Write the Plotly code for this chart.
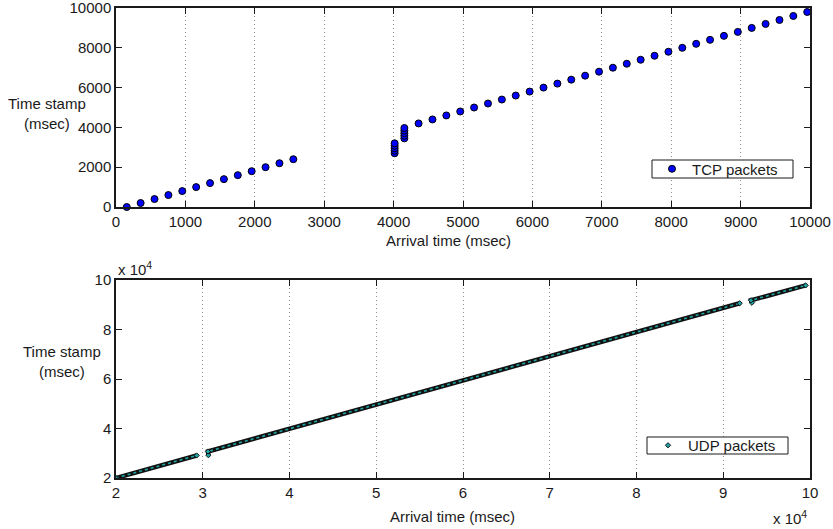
import plotly.graph_objects as go

# ---------------- TCP stream (upper panel) ----------------
tcp_arrival = [155, 355, 555, 755, 955, 1155, 1355, 1555, 1755, 1955, 2155, 2355, 2555,
               4015, 4015, 4015, 4015, 4015,
               4155, 4155, 4155, 4155, 4155,
               4360, 4560, 4760, 4960, 5160, 5360, 5560, 5760, 5960, 6160,
               6360, 6560, 6760, 6960, 7160, 7360, 7560, 7760, 7960, 8160,
               8360, 8560, 8760, 8960, 9160, 9360, 9560, 9760, 9960]
tcp_stamp = [0, 200, 400, 600, 800, 1000, 1200, 1400, 1600, 1800, 2000, 2200, 2400,
             2700, 2825, 2950, 3075, 3200,
             3450, 3580, 3710, 3840, 3970,
             4200, 4400, 4600, 4800, 5000, 5200, 5400, 5600, 5800, 6000,
             6200, 6400, 6600, 6800, 7000, 7200, 7400, 7600, 7800, 8000,
             8200, 8400, 8600, 8800, 9000, 9200, 9400, 9600, 9800]

tcp_xticks = [0, 1000, 2000, 3000, 4000, 5000, 6000, 7000, 8000, 9000, 10000]
tcp_xticktext = ["0", "1000", "2000", "3000", "4000", "5000", "6000", "7000",
                 "8000", "9000", "10000"]
tcp_yticks = [0, 2000, 4000, 6000, 8000, 10000]
tcp_yticktext = ["0", "2000", "4000", "6000", "8000", "10000"]

# ---------------- UDP stream (lower panel) ----------------
# the stream arrives in three runs separated by two gaps
udp_run1_arrival = [20000, 29300]
udp_run1_stamp = [20000, 29100]
udp_run2_arrival = [30650, 30600, 91900]
udp_run2_stamp = [29200, 30700, 90600]
udp_run3_arrival = [93300, 93200, 99500]
udp_run3_stamp = [90800, 91800, 97800]

udp_xticks = [20000, 30000, 40000, 50000, 60000, 70000, 80000, 90000, 100000]
udp_xticktext = ["2", "3", "4", "5", "6", "7", "8", "9", "10"]
udp_yticks = [20000, 40000, 60000, 80000, 100000]
udp_yticktext = ["2", "4", "6", "8", "10"]

FONT = "Liberation Sans, Arial, Helvetica, sans-serif"
INK = "#1a1a1a"
W, H = 833, 529


def px_x(p):
    return p / W


def px_y(p):
    return (H - p) / H


udp_x = udp_run1_arrival + [None] + udp_run2_arrival + [None] + udp_run3_arrival
udp_y = udp_run1_stamp + [None] + udp_run2_stamp + [None] + udp_run3_stamp

fig = go.Figure()

fig.add_trace(go.Scatter(
    x=tcp_arrival, y=tcp_stamp, mode="markers", name="TCP packets",
    marker=dict(size=7, color="#0000ff", line=dict(color="black", width=1)),
    xaxis="x", yaxis="y", legend="legend", cliponaxis=False))

# dense packet band: dark outline with teal dots inside
fig.add_trace(go.Scatter(
    x=udp_x, y=udp_y, mode="lines", showlegend=False, hoverinfo="skip",
    line=dict(color="#111111", width=4.5), xaxis="x2", yaxis="y2"))
fig.add_trace(go.Scatter(
    x=udp_x, y=udp_y, mode="lines", showlegend=False, hoverinfo="skip",
    line=dict(color="#1fa5a5", width=1.6, dash="dot"), xaxis="x2", yaxis="y2"))
fig.add_trace(go.Scatter(
    x=udp_x, y=udp_y, mode="markers", name="UDP packets",
    marker=dict(symbol="diamond", size=4, color="#1fa5a5",
                line=dict(color="#111111", width=1)),
    xaxis="x2", yaxis="y2", legend="legend2"))

axis_common = dict(
    showline=True, linecolor=INK, linewidth=1.5, mirror="ticks",
    ticks="inside", ticklen=6, tickwidth=1.2, tickcolor=INK,
    zeroline=False, automargin=False, ticklabeloverflow="allow",
    tickfont=dict(family=FONT, size=15, color=INK))
xgrid = dict(showgrid=True, gridcolor="#8f8f8f", gridwidth=1, griddash="1px,3px")

x_dom = [px_x(116), px_x(810)]

legend_common = dict(xanchor="left", yanchor="middle",
                     bgcolor="rgba(0,0,0,0)", borderwidth=0,
                     font=dict(family=FONT, size=15, color=INK))

fig.update_layout(
    width=W, height=H,
    margin=dict(l=0, r=0, t=0, b=0),
    paper_bgcolor="white", plot_bgcolor="white",
    font=dict(family=FONT, size=15, color=INK),
    xaxis=dict(domain=x_dom, range=[0, 10000], tickvals=tcp_xticks,
               ticktext=tcp_xticktext, anchor="y", **xgrid, **axis_common),
    yaxis=dict(domain=[px_y(207), px_y(8)], range=[0, 10000],
               tickvals=tcp_yticks, ticktext=tcp_yticktext, anchor="x",
               showgrid=False, **axis_common),
    xaxis2=dict(domain=x_dom, range=[20000, 100000], tickvals=udp_xticks,
                ticktext=udp_xticktext, anchor="y2", **xgrid, **axis_common),
    yaxis2=dict(domain=[px_y(478), px_y(280)], range=[20000, 100000],
                tickvals=udp_yticks, ticktext=udp_yticktext, anchor="x2",
                showgrid=False, **axis_common),
    legend=dict(x=px_x(652), y=px_y(169), **legend_common),
    legend2=dict(x=px_x(648), y=px_y(445.5), **legend_common),
)

# legend frames
for x0, y0, x1, y1 in [(652, 160, 793, 178), (647, 437, 788, 454)]:
    fig.add_shape(type="rect", xref="paper", yref="paper",
                  x0=px_x(x0), x1=px_x(x1), y0=px_y(y1), y1=px_y(y0),
                  fillcolor="white", line=dict(color=INK, width=1), layer="above")

labels = [
    ("Time stamp<br>(msec)", 47, 113.5, "center", "middle"),
    ("Arrival time (msec)", 448, 240, "center", "middle"),
    ("Time stamp<br>(msec)", 62, 361.5, "center", "middle"),
    ("Arrival time (msec)", 452, 516, "center", "middle"),
    ("x 10<sup>4</sup>", 116, 280, "left", "bottom"),
    ("x 10<sup>4</sup>", 809, 528.5, "right", "bottom"),
]
for text, x, y, xa, ya in labels:
    fig.add_annotation(text=text, x=px_x(x), y=px_y(y), xref="paper", yref="paper",
                       xanchor=xa, yanchor=ya, showarrow=False,
                       font=dict(family=FONT, size=15, color=INK))

fig.write_html("out.html")
